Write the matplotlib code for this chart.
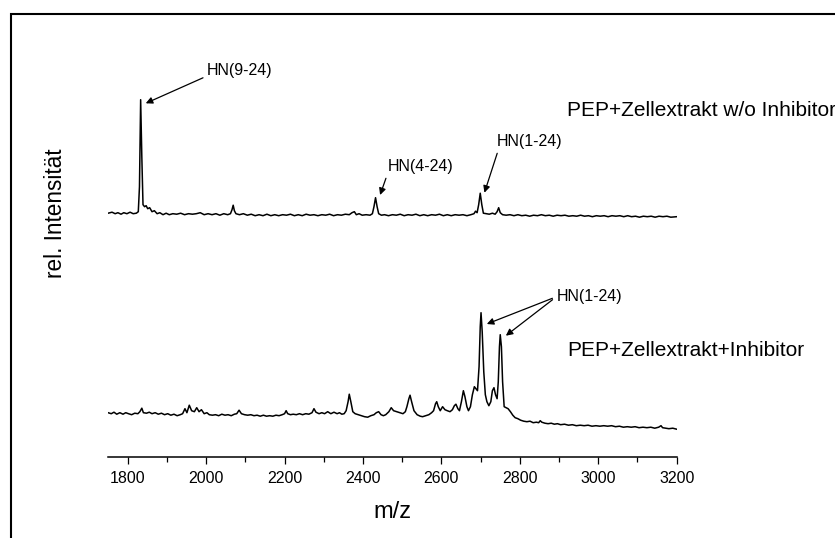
import numpy as np
import matplotlib.pyplot as plt
from matplotlib.patches import Rectangle
from matplotlib.ticker import MultipleLocator

plt.rcParams['font.family'] = ['Liberation Sans', 'DejaVu Sans']

# spectrum without inhibitor (m/z, rel. intensity)
upper_trace = [
    (1750, 243.5), (1760, 244.5), (1768, 243), (1775, 244), (1783, 242.5), (1790, 244),
    (1798, 243), (1806, 244.5), (1814, 243), (1822, 243.5), (1827, 245), (1830, 270),
    (1833, 357), (1836, 300), (1839, 252), (1843, 250), (1847, 251), (1851, 248),
    (1856, 249), (1862, 245), (1868, 246), (1875, 243), (1882, 244), (1890, 242),
    (1898, 243.5), (1906, 242), (1915, 243), (1925, 242.5), (1935, 243.5), (1945, 242),
    (1955, 243), (1965, 242.5), (1975, 243), (1985, 244), (1995, 242), (2005, 243),
    (2015, 242), (2025, 243), (2035, 241.5), (2045, 243), (2055, 242), (2062, 243),
    (2066, 247), (2069, 251.5), (2072, 246), (2076, 243), (2085, 242), (2095, 243),
    (2105, 241.5), (2115, 242.5), (2125, 241), (2135, 242), (2145, 241), (2155, 242.5),
    (2165, 241), (2175, 242), (2185, 241), (2195, 242), (2205, 241.5), (2215, 242.5),
    (2225, 241), (2235, 242), (2245, 241), (2255, 242.5), (2265, 241.5), (2275, 242),
    (2285, 241), (2295, 242), (2305, 241.5), (2315, 242.5), (2325, 241), (2335, 242),
    (2345, 241.5), (2355, 242.5), (2365, 242), (2372, 244), (2378, 245), (2383, 242),
    (2390, 243), (2398, 241.5), (2408, 242), (2418, 241.5), (2424, 243), (2428, 250),
    (2432, 259), (2436, 250), (2440, 243), (2447, 241.5), (2455, 242), (2465, 241),
    (2475, 242), (2485, 241.5), (2495, 242.5), (2505, 241), (2515, 242), (2525, 241.5),
    (2535, 242.5), (2545, 241), (2555, 242), (2565, 241), (2575, 242), (2585, 241.5),
    (2595, 242.5), (2605, 241), (2615, 242), (2625, 241), (2635, 242), (2645, 241.5),
    (2655, 242), (2665, 241), (2675, 242), (2683, 243), (2687, 245.5), (2691, 244),
    (2695, 252), (2699, 263.5), (2703, 252), (2707, 243.5), (2715, 243), (2722, 242.5),
    (2730, 243.5), (2737, 242.5), (2742, 245), (2746, 249), (2750, 244), (2756, 242),
    (2765, 241.5), (2775, 242), (2785, 241), (2795, 242), (2805, 241), (2815, 241.5),
    (2825, 240.5), (2835, 241.5), (2845, 241), (2855, 242), (2865, 241), (2875, 241.5),
    (2885, 240.5), (2895, 241.5), (2905, 241), (2915, 241.5), (2925, 240.5), (2935, 241),
    (2945, 240.5), (2955, 241.5), (2965, 240.5), (2975, 241), (2985, 240), (2995, 241),
    (3005, 240.5), (3015, 241), (3025, 240), (3035, 241), (3045, 240.5), (3055, 241),
    (3065, 240), (3075, 241), (3085, 240), (3095, 240.5), (3105, 239.5), (3115, 240.5),
    (3125, 240), (3135, 240.5), (3145, 239.5), (3155, 240.5), (3165, 240), (3175, 240.5),
    (3185, 239.5), (3200, 240),
]

# spectrum with inhibitor
lower_trace = [
    (1750, 44), (1758, 43), (1765, 44.5), (1772, 42.5), (1780, 44), (1788, 42.5),
    (1795, 44), (1802, 43), (1810, 42), (1818, 43.5), (1826, 43), (1831, 45),
    (1836, 48.5), (1840, 44), (1848, 43.5), (1855, 44.5), (1862, 43), (1870, 44),
    (1878, 42.5), (1886, 43.5), (1894, 42), (1902, 43), (1910, 41.5), (1918, 42.5),
    (1926, 41), (1934, 42), (1940, 43), (1946, 48), (1951, 44), (1957, 51.5),
    (1963, 46), (1970, 45), (1976, 49), (1982, 45), (1988, 47), (1995, 43),
    (2002, 44), (2008, 42), (2016, 41.5), (2024, 42), (2032, 41), (2040, 42.5),
    (2048, 41.5), (2056, 42), (2064, 41), (2072, 42.5), (2078, 43), (2084, 46.5),
    (2090, 43), (2098, 42), (2106, 41.5), (2114, 42), (2122, 41), (2130, 41.5),
    (2138, 40.5), (2146, 41.5), (2154, 40.5), (2162, 41), (2170, 40.5), (2178, 41.5),
    (2186, 41), (2194, 42), (2200, 43), (2204, 46), (2208, 43), (2215, 42),
    (2222, 42.5), (2230, 42), (2238, 43), (2246, 42), (2254, 43), (2262, 42.5),
    (2270, 44), (2275, 48), (2280, 44.5), (2288, 43), (2295, 44), (2302, 43),
    (2310, 45), (2318, 43), (2326, 44.5), (2334, 43), (2340, 44), (2346, 42.5),
    (2352, 43), (2357, 46), (2362, 55), (2365, 62.5), (2369, 55), (2374, 45),
    (2380, 43), (2388, 42), (2396, 41), (2404, 40), (2412, 39.5), (2420, 41),
    (2428, 42), (2434, 44), (2440, 45), (2446, 42), (2452, 41), (2458, 42),
    (2466, 45), (2472, 49), (2478, 46), (2486, 45), (2494, 44), (2502, 43),
    (2508, 45), (2512, 50), (2517, 58), (2520, 61.5), (2524, 55), (2530, 46),
    (2538, 42), (2546, 40.5), (2552, 40), (2560, 41), (2568, 42), (2575, 44),
    (2580, 46), (2585, 53), (2588, 55), (2592, 50), (2597, 46), (2603, 50),
    (2609, 47), (2615, 46), (2622, 45), (2628, 47), (2633, 51), (2637, 52.5),
    (2642, 48), (2646, 46), (2651, 55), (2656, 66), (2660, 60), (2665, 50),
    (2669, 46), (2674, 50), (2679, 62), (2684, 70), (2688, 68), (2692, 66),
    (2696, 90), (2699, 130), (2701, 144), (2704, 125), (2708, 85), (2712, 62),
    (2716, 55), (2721, 51), (2726, 55), (2730, 66), (2734, 69), (2738, 62),
    (2742, 58), (2745, 75), (2748, 110), (2750, 122), (2753, 110), (2756, 75),
    (2760, 50), (2765, 49), (2770, 48), (2776, 45), (2782, 41.5), (2788, 39),
    (2795, 38), (2802, 36.5), (2810, 35.5), (2818, 35), (2826, 35.5), (2834, 34),
    (2842, 34.5), (2848, 34), (2852, 36), (2856, 34.5), (2864, 33.5), (2872, 33),
    (2880, 33.5), (2888, 32.5), (2896, 33), (2904, 32), (2914, 32.5), (2924, 31.5),
    (2934, 32), (2944, 31), (2954, 31.5), (2964, 31), (2974, 31.5), (2984, 30.5),
    (2994, 31), (3004, 30.5), (3014, 31), (3024, 30.5), (3034, 31), (3044, 30),
    (3054, 30.5), (3064, 29.5), (3074, 30), (3084, 29.5), (3094, 30), (3104, 29),
    (3114, 29.5), (3124, 29), (3134, 29.5), (3144, 28.5), (3154, 29.5), (3160, 31),
    (3164, 29), (3172, 28.5), (3180, 28), (3190, 28.5), (3200, 27.5),
]

# annotations: label, text position, arrow targets, arrow start on the text box
peak_labels = [
    ("HN(9-24)", (2086, 386.7), [(1846, 353.4)], (0.0, 0.1)),
    ("HN(4-24)", (2546, 290), [(2443.6, 261.7)], (0.0, 0.0)),
    ("HN(1-24)", (2826, 315), [(2709.7, 264)], (0.02, 0.0)),
    ("HN(1-24)", (2977, 160), [(2715.8, 132.7), (2764.3, 121)], (0.0, 0.5)),
]
sample_labels = [
    ("PEP+Zellextrakt w/o Inhibitor", (2921, 346)),
    ("PEP+Zellextrakt+Inhibitor", (2921, 106.7)),
]

fig = plt.figure(figsize=(8.35, 5.38), dpi=100)
ax = fig.add_axes([108.1 / 835, 1 - 456.7 / 538, (676.7 - 108.1) / 835, 400 / 538])

for trace in (upper_trace, lower_trace):
    arr = np.array(trace)
    ax.plot(arr[:, 0], arr[:, 1], color='black', lw=1.1)

ax.set_xlim(1750, 3200)
ax.set_ylim(0, 400)
for side in ('top', 'left', 'right'):
    ax.spines[side].set_visible(False)
ax.spines['bottom'].set_linewidth(1.1)
ax.set_yticks([])
ax.xaxis.set_major_locator(MultipleLocator(200))
ax.xaxis.set_minor_locator(MultipleLocator(100))
ax.tick_params(axis='x', which='major', direction='out', length=5, width=0.9, pad=5.5, labelsize=11.5)
ax.tick_params(axis='x', which='minor', direction='out', length=3.6, width=0.9)

ax.set_xlabel("m/z", fontsize=17, va='center')
ax.xaxis.set_label_coords(0.5, -0.137)
ax.set_ylabel("rel. Intensität", fontsize=16.3, va='center')
ax.yaxis.set_label_coords(-0.092, 0.609)

for text, pos, targets, rp in peak_labels:
    for k, tgt in enumerate(targets):
        ax.annotate(text, xy=tgt, xytext=pos, ha='center', va='center', fontsize=11.5,
                    color='black' if k == 0 else 'none',
                    arrowprops=dict(arrowstyle='-|>', color='black', lw=0.9,
                                    mutation_scale=10, relpos=rp, shrinkA=1, shrinkB=0))

for text, pos in sample_labels:
    ax.text(pos[0], pos[1], text, ha='left', va='center', fontsize=15)

fig.add_artist(Rectangle((10.5 / 835, -0.05), 1.2, (538 - 14.5) / 538 + 0.05,
                         transform=fig.transFigure, fill=False, lw=1.5,
                         edgecolor='black', clip_on=False))

fig.savefig("out.png", dpi=100)
